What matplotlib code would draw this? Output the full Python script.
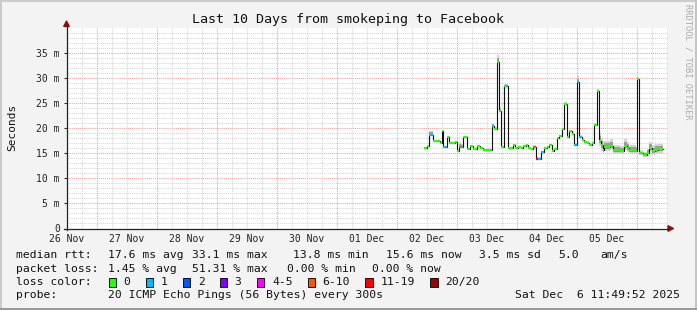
import matplotlib
matplotlib.use("Agg")
import matplotlib.pyplot as plt
from matplotlib.patches import Rectangle, Polygon
from matplotlib.lines import Line2D
from matplotlib.transforms import Affine2D

W, H = 697, 310
MONO = "DejaVu Sans Mono"

# ---------------- data ----------------
# time in hours since 02 Dec 00:00, median rtt in ms, loss colour index
hours = [10.83, 12.16, 12.70, 14.56, 16.56, 17.23, 18.03, 18.56, 19.90, 20.70,
         23.23, 24.16, 24.70, 25.50, 26.56, 27.90, 29.23, 30.30, 32.16, 33.23,
         34.30, 37.90, 38.96, 39.90, 40.83, 41.63, 42.83, 43.50, 44.56, 46.30,
         47.23, 48.56, 49.50, 50.56, 51.50, 52.56, 53.63, 54.56, 55.63, 56.43,
         57.50, 58.83, 59.90, 60.83, 61.90, 62.83, 63.90, 64.96, 66.16, 66.70,
         67.90, 68.96, 70.03, 70.83, 71.90, 72.83, 73.90, 74.83, 75.90, 76.83,
         77.90, 78.83, 79.90, 80.83, 81.63, 82.30, 82.96, 85.23, 86.30, 89.23,
         90.83, 91.90, 92.96, 95.63, 96.16, 96.96, 98.56, 99.90, 100.96, 101.90,
         103.23, 104.56]
end_hour = 106.56
median_ms = [16.0, 16.5, 18.7, 17.5, 17.4, 17.0, 19.4, 16.3, 18.3, 17.1,
             17.2, 15.5, 16.3, 16.3, 18.3, 15.9, 16.5, 15.9, 16.5, 16.1,
             15.7, 20.5, 19.9, 33.1, 23.5, 16.3, 28.3, 28.3, 16.1, 16.7,
             16.1, 16.2, 16.1, 16.5, 16.7, 16.1, 15.9, 16.3, 13.9, 13.9,
             15.2, 16.1, 16.3, 16.7, 15.5, 15.8, 18.1, 18.5, 19.8, 24.8,
             18.2, 19.4, 18.9, 16.7, 29.1, 18.3, 17.7, 17.2, 17.1, 16.7,
             17.0, 20.7, 27.4, 17.5, 16.7, 15.7, 16.3, 16.5, 15.7, 15.5,
             16.5, 16.1, 15.7, 15.5, 29.8, 15.0, 14.7, 15.1, 16.1, 15.5,
             15.7, 15.8]
loss_idx = [0, 0, 1, 0, 0, 0, 0, 1, 0, 0,
            0, 0, 5, 1, 0, 0, 0, 0, 0, 0,
            0, 1, 0, 0, 0, 0, 0, 1, 0, 0,
            0, 0, 0, 0, 0, 0, 0, 5, 6, 1,
            1, 0, 0, 0, 0, 0, 0, 0, 0, 0,
            0, 0, 0, 1, 1, 1, 0, 0, 0, 0,
            0, 0, 0, 0, 0, 0, 0, 0, 0, 0,
            0, 0, 0, 0, 0, 0, 0, 0, 0, 0,
            0, 0]
smoke_up = [0.2, 0.2, 0.8, 0.2, 0.2, 0.2, 0.3, 0.2, 0.2, 0.2,
            0.2, 0.2, 1.0, 0.5, 0.2, 0.2, 0.2, 0.2, 0.2, 0.2,
            0.2, 0.4, 0.3, 1.4, 0.7, 0.2, 0.4, 0.4, 0.2, 0.2,
            0.2, 0.2, 0.2, 0.2, 0.2, 0.2, 0.2, 0.4, 0.3, 0.3,
            0.3, 0.2, 0.2, 0.2, 0.2, 0.2, 0.2, 0.2, 0.3, 0.4,
            0.3, 0.3, 0.3, 0.3, 1.3, 0.4, 0.3, 0.3, 0.3, 0.3,
            0.3, 0.3, 0.4, 1.6, 1.4, 1.6, 1.2, 1.4, 1.0, 0.9,
            1.4, 1.2, 1.0, 0.8, 0.4, 0.6, 0.6, 0.8, 1.2, 1.1,
            1.2, 1.1]
smoke_down = [0.1, 0.1, 0.1, 0.1, 0.1, 0.1, 0.1, 0.1, 0.1, 0.1,
              0.1, 0.1, 0.1, 0.1, 0.1, 0.1, 0.1, 0.1, 0.1, 0.1,
              0.1, 0.1, 0.1, 0.2, 0.2, 0.1, 0.1, 0.1, 0.1, 0.1,
              0.1, 0.1, 0.1, 0.1, 0.1, 0.1, 0.1, 0.1, 0.1, 0.1,
              0.1, 0.1, 0.1, 0.1, 0.1, 0.1, 0.1, 0.1, 0.1, 0.1,
              0.1, 0.1, 0.1, 0.1, 0.2, 0.1, 0.1, 0.1, 0.1, 0.1,
              0.1, 0.1, 0.2, 1.0, 1.2, 0.9, 0.8, 0.9, 0.8, 0.6,
              0.9, 0.9, 0.7, 0.5, 0.2, 0.4, 0.4, 0.6, 0.9, 0.8,
              0.9, 0.8]

day_labels = ["26 Nov", "27 Nov", "28 Nov", "29 Nov", "30 Nov",
              "01 Dec", "02 Dec", "03 Dec", "04 Dec", "05 Dec"]
day_label_hours = [-132, -108, -84, -60, -36, -12, 12, 36, 60, 84]
y_ticks = [0, 5, 10, 15, 20, 25, 30, 35]
y_tick_labels = ["0", "5 m", "10 m", "15 m", "20 m", "25 m", "30 m", "35 m"]

loss_colors = ["#26ff00", "#00b8ff", "#0059ff", "#7e00ff",
               "#ff00ff", "#ff5500", "#ff0000", "#a00000"]
loss_names = ["0", "1", "2", "3", "4-5", "6-10", "11-19", "20/20"]

rtt_stats = ["17.6 ms avg", "33.1 ms max", "13.8 ms min", "15.6 ms now",
             "3.5 ms sd", "5.0", "am/s"]
loss_stats = ["1.45 % avg", "51.31 % max", "0.00 % min", "0.00 % now"]
probe_text = "20 ICMP Echo Pings (56 Bytes) every 300s"
date_text = "Sat Dec  6 11:49:52 2025"
title = "Last 10 Days from smokeping to Facebook"

# ---------------- layout ----------------
start_hour = -132.169            # 26 Nov 11:49:52
PX_PER_HOUR = 2.5
L, R, T, B = 66.5, 668.0, 28.0, 228.5
Y_MAX = (B - T) / 25.1 * 5

fig = plt.figure(figsize=(W / 100, H / 100), dpi=100, facecolor="#F3F3F3")
P = Affine2D().scale(1.0 / W, -1.0 / H).translate(0, 1) + fig.transFigure

ax = fig.add_axes([L / W, 1 - B / H, (R - L) / W, (B - T) / H])
ax.set_facecolor("white")
ax.set_xlim(start_hour, start_hour + (R - L) / PX_PER_HOUR)
ax.set_ylim(0, Y_MAX)
for s in ax.spines.values():
    s.set_visible(False)

dot = (0, (1, 1))
# horizontal grid
for v in range(1, int(Y_MAX) + 1):
    if v % 5 == 0:
        ax.axhline(v, color="#F0A0A0", lw=0.75, ls=dot, zorder=1)
    else:
        ax.axhline(v, color="#D6D6D6", lw=0.75, ls=dot, zorder=1)
# vertical grid
h = -126
while h < start_hour + (R - L) / PX_PER_HOUR:
    if h > start_hour:
        if h % 24 == 0:
            ax.axvline(h, color="#F0A0A0", lw=0.75, ls=dot, zorder=1)
        else:
            ax.axvline(h, color="#D6D6D6", lw=0.75, ls=dot, zorder=1)
    h += 6

# smoke
t_ext = hours + [end_hour]
hi = [m + u for m, u in zip(median_ms, smoke_up)]
lo = [m - d for m, d in zip(median_ms, smoke_down)]
hi2 = [m + 0.55 * u for m, u in zip(median_ms, smoke_up)]
lo2 = [m - 0.55 * d for m, d in zip(median_ms, smoke_down)]
ax.fill_between(t_ext, lo + [lo[-1]], hi + [hi[-1]], step="post",
                color="#D4D4D4", lw=0, zorder=2)
ax.fill_between(t_ext, lo2 + [lo2[-1]], hi2 + [hi2[-1]], step="post",
                color="#9C9C9C", lw=0, zorder=2)

# median line
ax.step(t_ext, median_ms + [median_ms[-1]], where="post",
        color="#111111", lw=0.8, zorder=3)
for i in range(len(hours)):
    t1 = hours[i + 1] if i + 1 < len(hours) else end_hour
    ax.hlines(median_ms[i], hours[i], t1, colors=loss_colors[loss_idx[i]],
              lw=1.5, zorder=4)

# ticks / labels
ax.set_xticks(day_label_hours)
ax.set_xticklabels(day_labels, fontfamily=MONO, fontsize=7, color="#222222")
ax.tick_params(axis="x", length=0, pad=4.0)
ax.set_yticks(y_ticks)
ax.set_yticklabels(y_tick_labels, fontfamily=MONO, fontsize=7, color="#222222")
ax.tick_params(axis="y", length=2.2, width=0.8, color="#333333", pad=2.5)

# axes lines and arrows
fig.add_artist(Line2D([L, L], [B + 1, 25], color="#222222", lw=0.9, transform=P))
fig.add_artist(Line2D([L - 3, R], [B, B], color="#222222", lw=0.9, transform=P))
fig.add_artist(Polygon([[L, 21], [L - 2.8, 26.5], [L + 2.8, 26.5]], closed=True,
                       color="#8B1010", transform=P))
fig.add_artist(Polygon([[673.5, B], [668, B - 2.8], [668, B + 2.8]], closed=True,
                       color="#8B1010", transform=P))

# title, y label, watermark
fig.text(348 / W, 1 - 19.5 / H, title, ha="center", va="center",
         fontfamily=MONO, fontsize=9.6, color="#111111")
fig.text(12 / W, 1 - 127 / H, "Seconds", ha="center", va="center",
         rotation=90, fontfamily=MONO, fontsize=8, color="#111111")
fig.text(688 / W, 1 - 4 / H, "RRDTOOL / TOBI OETIKER", ha="center", va="top",
         rotation=270, fontfamily=MONO, fontsize=6.3, color="#ABABAB")

# legend
LF = 8.2
def ltext(x, y, s, ha="left"):
    fig.text(x / W, 1 - y / H, s, ha=ha, va="center", fontfamily=MONO,
             fontsize=LF, color="#111111")

rows = [255, 268.5, 282, 295.5]
ltext(16.4, rows[0], "median rtt:")
for x, s in zip([107.6, 192, 293, 385.8, 479, 557.8, 600], rtt_stats):
    ltext(x, rows[0], s)
ltext(16.4, rows[1], "packet loss:")
for x, s in zip([107.6, 192, 286.7, 372.4], loss_stats):
    ltext(x, rows[1], s)
ltext(16.4, rows[2], "loss color:")
box_x = [108.5, 145.8, 182.7, 219.6, 256.9, 307.6, 365.3, 430.2]
for bx, c, name in zip(box_x, loss_colors, loss_names):
    fig.add_artist(Rectangle((bx, rows[2] - 4.5), 7.5, 9, facecolor=c,
                             edgecolor="#111111", lw=0.7, transform=P))
    ltext(bx + 15, rows[2], name)
ltext(16.4, rows[3], "probe:")
ltext(107.6, rows[3], probe_text)
ltext(680, rows[3], date_text, ha="right")

# frame
fig.add_artist(Rectangle((0, 0), W, 2, facecolor="#CBCBCB", lw=0, transform=P))
fig.add_artist(Rectangle((0, 0), 2, H, facecolor="#CBCBCB", lw=0, transform=P))
fig.add_artist(Rectangle((W - 2, 0), 2, H, facecolor="#C4C4C4", lw=0, transform=P))
fig.add_artist(Rectangle((0, H - 2.5), W, 2.5, facecolor="#9A9A9A", lw=0, transform=P))

fig.savefig("out.png", dpi=100, facecolor=fig.get_facecolor())
